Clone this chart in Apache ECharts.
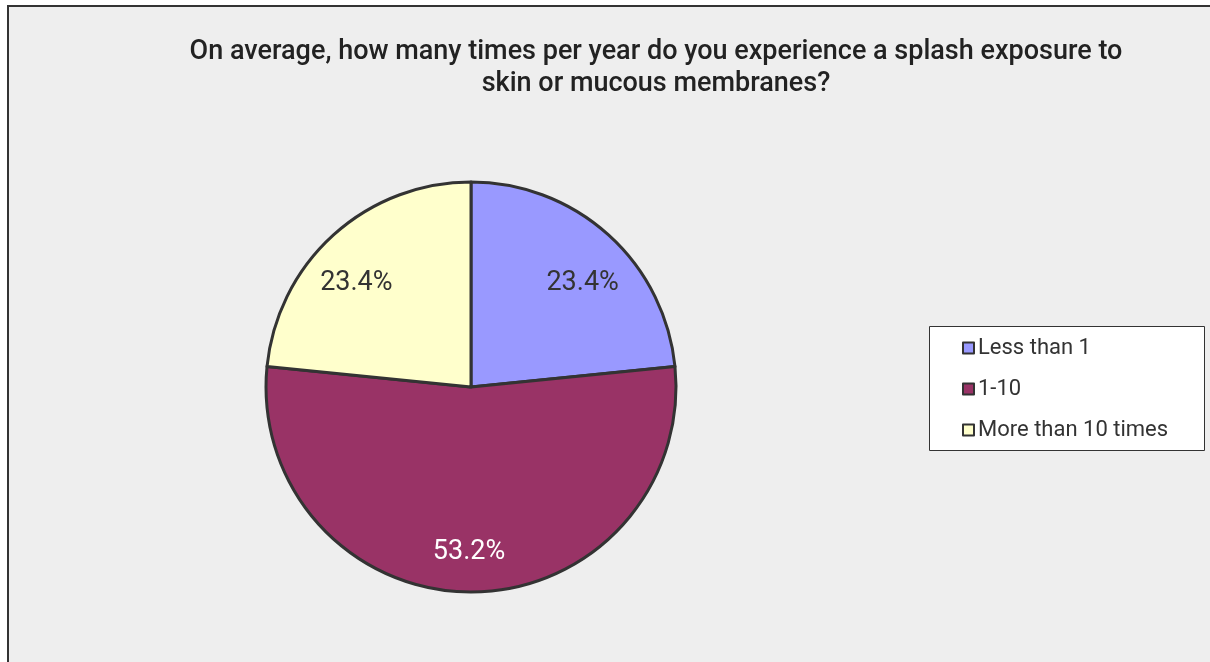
<!DOCTYPE html>
<html>
<head>
<meta charset="utf-8">
<script src="https://cdn.jsdelivr.net/npm/echarts@6/dist/echarts.min.js"></script>
<style>
  html, body { margin: 0; padding: 0; background: #ffffff; }
  #chart { width: 1210px; height: 662px; }
</style>
</head>
<body>
<div id="chart"></div>
<script>
const titleText = 'On average, how many times per year do you experience a splash exposure to\nskin or mucous membranes?';
const categories = ['Less than 1', '1-10', 'More than 10 times'];
const shares = [23.4, 53.2, 23.4];

// slice fills and label colours, in category order
const sliceColors = ['#9999ff', '#993366', '#ffffcc'];
const labelColors = ['#333333', '#ffffff', '#333333'];
// small nudges so each label sits where it reads best inside its slice
const labelNudges = [[5, 14], [-2, 6], [-8, 14]];

const FONT = 'Roboto, "Liberation Sans", Arial, sans-serif';

const pieData = categories.map((name, i) => ({
  name: name,
  value: shares[i],
  itemStyle: { color: sliceColors[i] }
}));

const labelData = categories.map((name, i) => ({
  name: name,
  value: shares[i],
  label: { color: labelColors[i], offset: labelNudges[i] }
}));

const chart = echarts.init(document.getElementById('chart'), null, { renderer: 'canvas' });
chart.setOption({
  animation: false,
  backgroundColor: '#ffffff',
  graphic: [
    {
      type: 'rect', z: -10, silent: true,
      shape: { x: 8, y: 6, width: 1230, height: 700 },
      style: { fill: '#eeeeee', stroke: '#333333', lineWidth: 2 }
    },
    {
      type: 'rect', z: 0, silent: true,
      shape: { x: 929.5, y: 326.5, width: 275, height: 124 },
      style: { fill: '#ffffff', stroke: '#333333', lineWidth: 1 }
    }
  ],
  title: {
    text: titleText,
    left: 656,
    top: 36,
    padding: 0,
    textAlign: 'center',
    textStyle: {
      fontFamily: FONT,
      fontSize: 27,
      fontWeight: 500,
      lineHeight: 32,
      color: '#222222'
    }
  },
  legend: {
    orient: 'vertical',
    left: 962,
    top: 337,
    padding: 0,
    itemGap: 19,
    itemWidth: 11,
    itemHeight: 11,
    icon: 'rect',
    itemStyle: { borderColor: '#333333', borderWidth: 2 },
    textStyle: {
      fontFamily: FONT,
      fontSize: 22,
      lineHeight: 22,
      color: '#333333',
      padding: [0, 0, 0, -1]
    },
    data: categories
  },
  series: [
    {
      type: 'pie',
      center: [471, 387],
      radius: [0, 205],
      startAngle: 90,
      clockwise: true,
      silent: true,
      itemStyle: { borderColor: '#333333', borderWidth: 3 },
      label: { show: false },
      labelLine: { show: false },
      data: pieData
    },
    {
      type: 'pie',
      center: [471, 387],
      radius: [0, 312],
      startAngle: 90,
      clockwise: true,
      silent: true,
      legendHoverLink: false,
      itemStyle: { color: 'rgba(0,0,0,0)', borderWidth: 0 },
      label: {
        show: true,
        position: 'inside',
        formatter: p => p.value.toFixed(1) + '%',
        fontFamily: FONT,
        fontSize: 27
      },
      labelLine: { show: false },
      data: labelData
    }
  ]
});
</script>
</body>
</html>
